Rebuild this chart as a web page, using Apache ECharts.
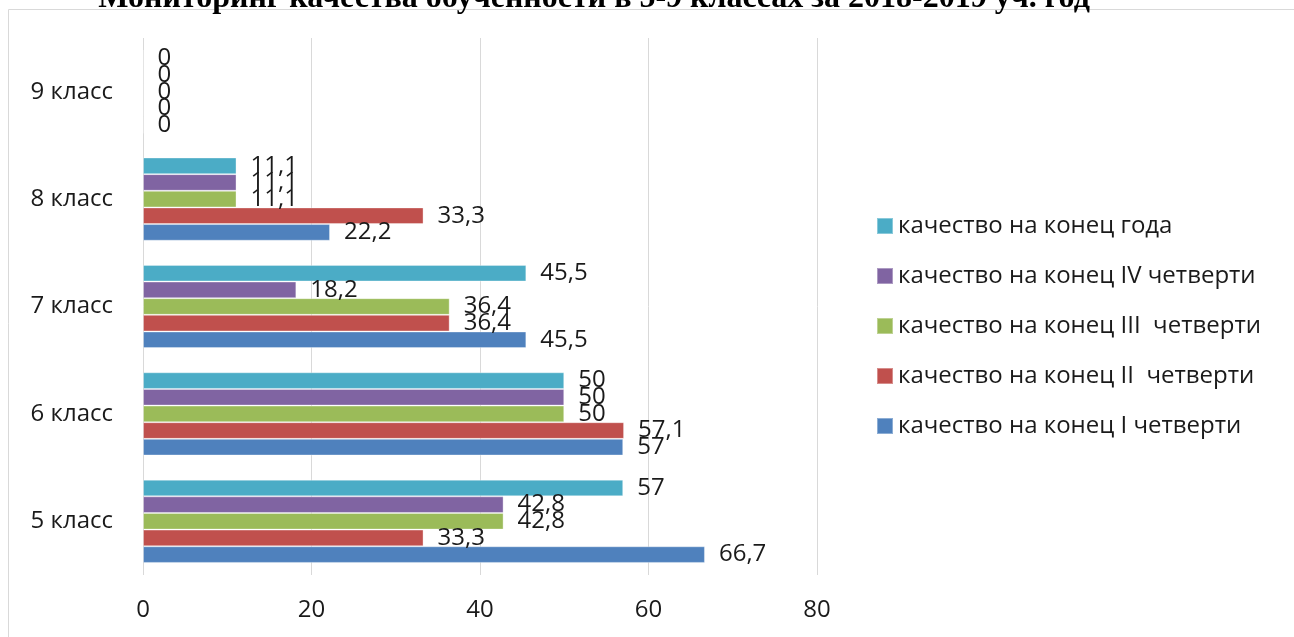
<!DOCTYPE html>
<html>
<head>
<meta charset="utf-8">
<script src="https://cdn.jsdelivr.net/npm/echarts@6/dist/echarts.min.js"></script>
<style>
html,body{margin:0;padding:0;background:#fff;}
#chart{width:1294px;height:637px;}
</style>
</head>
<body>
<div id="chart"></div>
<script>
var titleText = 'Мониторинг качества обученности в 5-9 классах за 2018-2019 уч. год';
var categories = ['5 класс', '6 класс', '7 класс', '8 класс', '9 класс'];
var seriesNames = [
  'качество на конец I четверти',
  'качество на конец II  четверти',
  'качество на конец III  четверти',
  'качество на конец IV четверти',
  'качество на конец года'
];
var q1 = [66.7, 57, 45.5, 22.2, 0];
var q2 = [33.3, 57.1, 36.4, 33.3, 0];
var q3 = [42.8, 50, 36.4, 11.1, 0];
var q4 = [42.8, 50, 18.2, 11.1, 0];
var year = [57, 50, 45.5, 11.1, 0];
var xTicks = [0, 20, 40, 60, 80];
var colors = ['#4F81BD', '#C0504D', '#9BBB59', '#8064A2', '#4BACC6'];

var font = 'Open Sans';
var seriesData = [q1, q2, q3, q4, year];
var series = [];
for (var i = seriesData.length - 1; i >= 0; i--) {
  series.push({
    name: seriesNames[i],
    type: 'bar',
    data: seriesData[i],
    barGap: '0%',
    barCategoryGap: '22.5%',
    itemStyle: { color: colors[i], borderColor: 'rgba(255,255,255,0.35)', borderWidth: 1 },
    label: {
      show: true,
      position: 'right',
      distance: 14,
      color: '#1a1a1a',
      fontFamily: font,
      fontSize: 24,
      formatter: function (p) { return String(p.value).replace('.', ','); }
    }
  });
}

var chart = echarts.init(document.getElementById('chart'));
chart.setOption({
  animation: false,
  graphic: [
    { type: 'rect', shape: { x: 8.5, y: 9.5, width: 1400, height: 800 },
      style: { fill: 'none', stroke: '#d9d9d9', lineWidth: 1 }, z: -1 },
    { type: 'text', x: 594, y: 15,
      style: { text: titleText, textAlign: 'center', textVerticalAlign: 'bottom',
        font: 'bold 32px "Liberation Serif"', fill: '#000' } }
  ],
  legend: {
    orient: 'vertical',
    left: 871,
    top: 209,
    itemWidth: 16,
    itemHeight: 16,
    itemGap: 26,
    icon: 'rect',
    data: seriesNames.slice().reverse(),
    textStyle: { fontFamily: font, fontSize: 24, color: '#1a1a1a' }
  },
  grid: { left: 143, right: 477, top: 38, bottom: 62, containLabel: false },
  xAxis: {
    type: 'value',
    min: 0, max: 80, interval: 20,
    axisLine: { show: false },
    axisTick: { show: false },
    splitLine: { show: true, lineStyle: { color: '#d9d9d9', width: 1 } },
    axisLabel: { margin: 23, color: '#1a1a1a', fontFamily: font, fontSize: 24,
      formatter: function (v) { return xTicks.indexOf(v) >= 0 ? String(v) : ''; } }
  },
  yAxis: {
    type: 'category',
    data: categories,
    axisLine: { show: false },
    axisTick: { show: false },
    splitLine: { show: false },
    axisLabel: { margin: 30, color: '#1a1a1a', fontFamily: font, fontSize: 24 }
  },
  series: series
});
</script>
</body>
</html>
